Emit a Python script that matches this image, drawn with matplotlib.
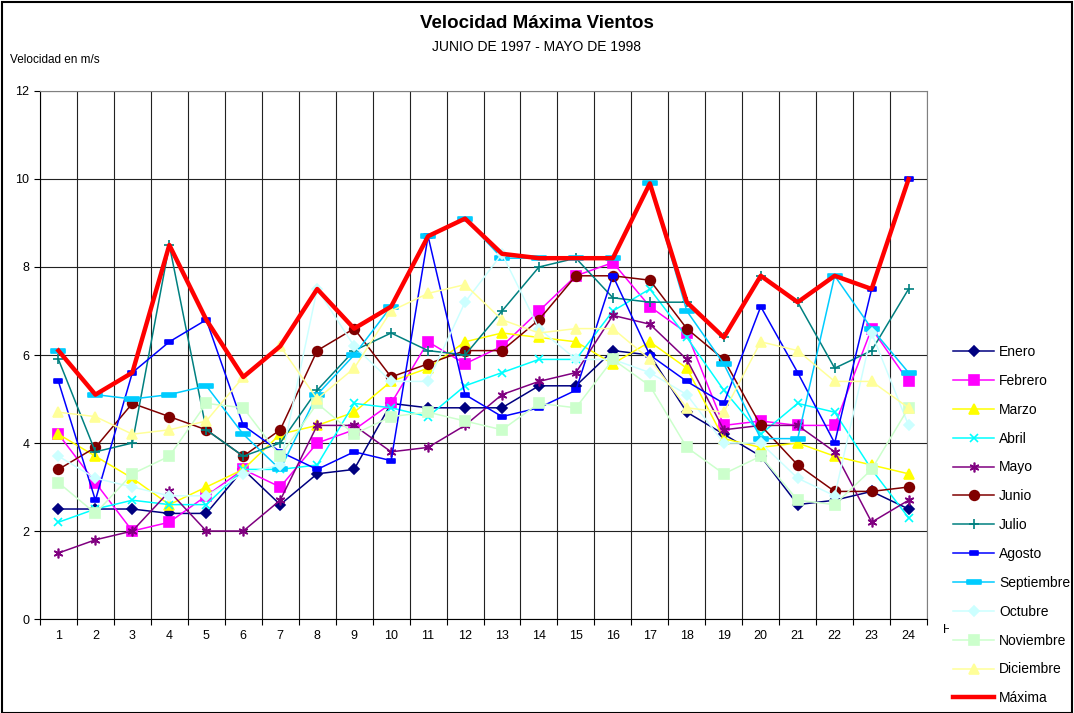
import matplotlib
matplotlib.use("Agg")
import matplotlib.pyplot as plt
from matplotlib.path import Path
from matplotlib.patches import Rectangle
from matplotlib.transforms import Bbox, TransformedBbox

plt.rcParams['font.family'] = ['Liberation Sans', 'DejaVu Sans']

hours = list(range(1, 25))

enero = [2.5, 2.5, 2.5, 2.4, 2.4, 3.4, 2.6, 3.3, 3.4, 4.9, 4.8, 4.8,
         4.8, 5.3, 5.3, 6.1, 6.0, 4.7, 4.2, 3.7, 2.6, 2.7, 2.9, 2.5]
febrero = [4.2, 3.1, 2.0, 2.2, 2.8, 3.4, 3.0, 4.0, 4.3, 4.9, 6.3, 5.8,
           6.2, 7.0, 7.8, 8.1, 7.1, 6.5, 4.4, 4.5, 4.4, 4.4, 6.6, 5.4]
marzo = [4.2, 3.7, 3.2, 2.6, 3.0, 3.4, 4.2, 4.4, 4.7, 5.4, 5.7, 6.3,
         6.5, 6.4, 6.3, 5.8, 6.3, 5.7, 4.1, 3.9, 4.0, 3.7, 3.5, 3.3]
abril = [2.2, 2.5, 2.7, 2.6, 2.6, 3.4, 3.4, 3.5, 4.9, 4.8, 4.6, 5.3,
         5.6, 5.9, 5.9, 7.0, 7.5, 6.4, 5.2, 4.2, 4.9, 4.7, 3.4, 2.3]
mayo = [1.5, 1.8, 2.0, 2.9, 2.0, 2.0, 2.7, 4.4, 4.4, 3.8, 3.9, 4.4,
        5.1, 5.4, 5.6, 6.9, 6.7, 5.9, 4.3, 4.4, 4.4, 3.8, 2.2, 2.7]
junio = [3.4, 3.9, 4.9, 4.6, 4.3, 3.7, 4.3, 6.1, 6.6, 5.5, 5.8, 6.1,
         6.1, 6.8, 7.8, 7.8, 7.7, 6.6, 5.9, 4.4, 3.5, 2.9, 2.9, 3.0]
julio = [5.9, 3.8, 4.0, 8.5, 4.3, 3.7, 4.0, 5.2, 6.1, 6.5, 6.1, 6.0,
         7.0, 8.0, 8.2, 7.3, 7.2, 7.2, 6.4, 7.8, 7.2, 5.7, 6.1, 7.5]
agosto = [5.4, 2.7, 5.6, 6.3, 6.8, 4.4, 3.8, 3.4, 3.8, 3.6, 8.7, 5.1,
          4.6, 4.8, 5.2, 7.8, 6.0, 5.4, 4.9, 7.1, 5.6, 4.0, 7.5, 10.0]
septiembre = [6.1, 5.1, 5.0, 5.1, 5.3, 4.2, 3.4, 5.1, 6.0, 7.1, 8.7, 9.1,
              8.2, 8.2, 8.2, 8.2, 9.9, 7.0, 5.8, 4.1, 4.1, 7.8, 6.6, 5.6]
octubre = [3.7, 3.2, 3.0, 2.8, 2.8, 3.3, 3.5, 7.5, 6.2, 5.4, 5.4, 7.2,
           8.3, 6.6, 5.9, 5.9, 5.6, 5.1, 4.0, 4.0, 3.2, 2.8, 6.5, 4.4]
noviembre = [3.1, 2.4, 3.3, 3.7, 4.9, 4.8, 3.7, 4.9, 4.2, 4.6, 4.7, 4.5,
             4.3, 4.9, 4.8, 5.9, 5.3, 3.9, 3.3, 3.7, 2.7, 2.6, 3.4, 4.8]
diciembre = [4.7, 4.6, 4.2, 4.3, 4.5, 5.5, 6.2, 5.0, 5.7, 7.0, 7.4, 7.6,
             6.8, 6.5, 6.6, 6.6, 5.9, 4.8, 4.7, 6.3, 6.1, 5.4, 5.4, 4.8]
maxima = [6.1, 5.1, 5.6, 8.5, 6.8, 5.5, 6.2, 7.5, 6.6, 7.1, 8.7, 9.1,
          8.3, 8.2, 8.2, 8.2, 9.9, 7.2, 6.4, 7.8, 7.2, 7.8, 7.5, 10.0]

# flat rectangle markers (Excel "dash" style)
dash_big = Path([(-1, -0.32), (1, -0.32), (1, 0.32), (-1, 0.32), (-1, -0.32)],
                [Path.MOVETO, Path.LINETO, Path.LINETO, Path.LINETO, Path.CLOSEPOLY])
dash_small = Path([(-1, -0.5), (1, -0.5), (1, 0.5), (-1, 0.5), (-1, -0.5)],
                  [Path.MOVETO, Path.LINETO, Path.LINETO, Path.LINETO, Path.CLOSEPOLY])

series = [
    ("Enero", enero, "#000080", "D", 5),
    ("Febrero", febrero, "#FF00FF", "s", 6.5),
    ("Marzo", marzo, "#FFFF00", "^", 7),
    ("Abril", abril, "#00FFFF", "x", 6),
    ("Mayo", mayo, "#800080", (6, 2, 0), 7),
    ("Junio", junio, "#800000", "o", 7),
    ("Julio", julio, "#008080", "+", 7.5),
    ("Agosto", agosto, "#0000FF", dash_small, 5.5),
    ("Septiembre", septiembre, "#00CCFF", dash_big, 9.5),
    ("Octubre", octubre, "#CCFFFF", "D", 5.5),
    ("Noviembre", noviembre, "#CCFFCC", "s", 6.5),
    ("Diciembre", diciembre, "#FFFF99", "^", 7),
]

fig = plt.figure(figsize=(10.74, 7.13), dpi=100)
fig.patches.append(Rectangle((0.002, 0.0), 0.996, 0.997, transform=fig.transFigure,
                             fill=False, edgecolor="black", linewidth=1.5))
ax = fig.add_axes([0.0372, 0.1318, 0.826, 0.7406])

for name, vals, color, marker, ms in series:
    ax.plot(hours, vals, color=color, marker=marker, markersize=ms,
            markeredgewidth=1.2, linewidth=1.1, label=name)
ax.plot(hours, maxima, color="#FF0000", linewidth=3.2, label="Máxima")

ax.set_xlim(0.5, 24.5)
ax.set_ylim(0, 12)
ax.set_yticks(range(0, 13, 2))
ax.set_xticks(hours)
ax.set_xticks([h + 0.5 for h in range(0, 25)], minor=True)
ax.tick_params(axis="x", which="major", length=0, labelsize=9, pad=8)
ax.tick_params(axis="x", which="minor", length=4, width=0.8)
ax.tick_params(axis="y", length=4, width=0.8, labelsize=9)
ax.grid(True, which="minor", axis="x", color="#222222", linewidth=0.8)
ax.grid(True, which="major", axis="y", color="#222222", linewidth=0.8)
ax.set_axisbelow(True)
for side in ["top", "right"]:
    ax.spines[side].set_color("#808080")
for side in ["left", "bottom"]:
    ax.spines[side].set_color("#000000")

fig.text(0.5, 0.967, "Velocidad Máxima Vientos", ha="center", va="center",
         fontsize=13.5, fontweight="bold")
fig.text(0.5, 0.934, "JUNIO DE 1997 - MAYO DE 1998", ha="center", va="center",
         fontsize=10)
fig.text(0.009, 0.916, "Velocidad en m/s", ha="left", va="center", fontsize=8.5)

# x axis title, hidden behind the legend except its first letter
hora = fig.text(0.878, 0.116, "Hora", ha="left", va="center", fontsize=9)
hora.set_clip_box(TransformedBbox(Bbox([[0, 0], [0.8835, 1]]), fig.transFigure))
hora.set_clip_on(True)

leg = fig.legend(loc="upper left", bbox_to_anchor=(0.8845, 0.52), frameon=False,
                 fontsize=10, handlelength=3.0, labelspacing=1.07,
                 handletextpad=0.35, borderpad=0.2, borderaxespad=0)

fig.savefig("out.png", dpi=100)
